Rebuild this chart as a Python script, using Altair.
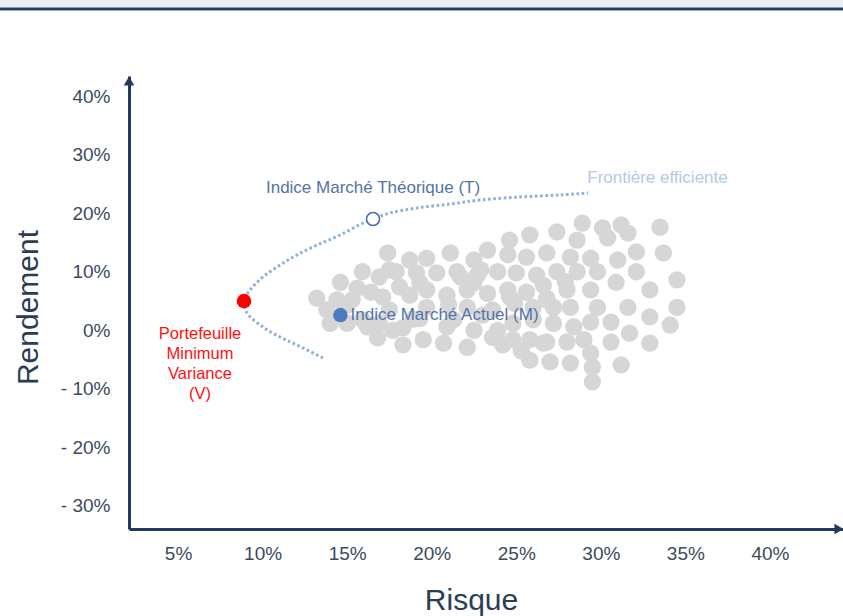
import altair as alt
import pandas as pd

# ---------------- data ----------------
x_ticks = [5, 10, 15, 20, 25, 30, 35, 40]
y_ticks = [-30, -20, -10, 0, 10, 20, 30, 40]

# gray cloud of individual assets (risk %, return %)
gx = [28.9, 30.1, 31.2, 31.6, 33.5, 30.4, 28.6, 27.4, 25.8, 24.6,
      32.1, 33.7, 31.0, 29.4, 28.2, 26.8, 25.6, 24.5, 23.3, 22.5,
      21.1, 19.7, 18.7, 17.4, 32.1, 34.5, 32.9, 30.9, 29.8, 28.6,
      27.4, 26.2, 25.0, 23.9, 22.7, 21.5, 20.3, 19.1, 17.9, 16.9,
      15.9, 14.6, 13.2, 15.6, 16.4, 18.1, 19.7, 20.9, 22.1, 23.3,
      24.5, 25.6, 26.8, 28.0, 29.4, 28.2, 29.8, 31.6, 32.9, 34.5,
      34.1, 32.9, 31.7, 30.6, 30.6, 29.4, 28.2, 29.5, 31.2, 29.5,
      27.0, 25.8, 26.8, 28.0, 28.4, 27.2, 26.0, 24.8, 24.8, 23.6,
      22.5, 22.1, 20.7, 19.5, 18.3, 18.3, 16.8, 16.9, 15.9, 15.0,
      14.0, 13.8, 15.0, 17.5, 21.3, 23.6, 26.0, 27.2, 22.1, 19.7,
      18.7, 25.8, 29.4, 29.0, 26.6, 24.2, 26.8, 24.6, 14.4, 17.1,
      15.3, 19.3, 21.7, 22.9, 20.9, 23.9, 16.2, 17.7, 17.5, 22.5,
      26.6, 19.3, 21.0, 24.9, 27.9, 23.0, 18.9, 25.3]
gy = [18.3, 17.5, 18.0, 16.6, 17.6, 15.8, 15.4, 16.8, 16.3, 15.4,
      13.4, 13.2, 12.0, 12.3, 12.5, 13.2, 12.5, 12.9, 13.7, 12.0,
      13.2, 12.3, 12.0, 13.2, 10.0, 8.6, 6.9, 8.2, 10.0, 10.0,
      10.0, 9.4, 9.8, 10.0, 9.4, 10.0, 9.8, 9.8, 10.0, 9.1,
      10.0, 8.2, 5.5, 7.2, 6.5, 7.4, 6.9, 6.0, 6.9, 6.3,
      6.9, 6.5, 5.5, 6.9, 6.9, 3.9, 3.9, 3.9, 2.3, 3.9,
      0.9, -2.2, -0.5, 1.4, -2.0, -3.9, -5.6, -6.3, -5.9, -8.8,
      -5.4, -5.1, -2.0, -2.0, 0.6, 1.2, 1.8, 1.2, -1.6, -1.2,
      0.0, -2.9, -2.2, -1.6, -2.5, 0.4, -1.3, 1.2, 1.8, 1.2,
      1.2, 3.5, 4.3, 3.5, 1.8, 3.5, 3.9, 3.9, 3.9, 3.9,
      6.0, -1.6, 1.4, -1.6, -2.2, -2.5, 5.2, 5.7, 5.2, 5.7,
      5.2, 8.1, 9.1, 10.3, 0.6, 0.0, 0.6, 0.0, 10.3, 8.1,
      7.7, 2.0, 4.4, 4.6, 8.3, 2.6, 1.9, -3.5]

# efficient frontier (ordered along the curve)
fx = [13.57, 12.03, 11.03, 10.02, 9.08, 8.9, 9.26, 10.02, 11.03, 12.03, 13.22,
      14.58, 15.94, 16.53, 17.54, 19.13, 21.08, 22.85, 25.21, 27.58, 29.24]
fy = [-4.73, -2.51, -1.15, 0.56, 2.95, 5.0, 6.88, 9.10, 11.14, 12.85, 14.56,
      16.27, 18.32, 19.0, 20.03, 20.88, 21.56, 22.24, 22.76, 23.1, 23.44]

# key portfolios
v_pt = (8.9, 5.0)     # minimum variance
t_pt = (16.53, 19.0)  # theoretical market index
m_pt = (14.6, 2.6)    # current market index

# labels (text, x, y)
lab_T = ("Indice Marché Théorique (T)", 16.53, 24.3)
lab_F = ("Frontière efficiente", 33.35, 26.0)
lab_M = ("Indice Marché Actuel (M)", 15.2, 2.6)
lab_V = (["Portefeuille", "Minimum", "Variance", "(V)"], 6.3, -0.63)

# ---------------- styling ----------------
FONT = "Liberation Sans"
AXIS_COLOR = "#1f3a5c"
LABEL_COLOR = "#3c4a5b"
TITLE_COLOR = "#2a3d56"
W, H = 714, 453
X_DOMAIN = [2.1, 44.32]
Y_DOMAIN = [-33.93, 43.42]

xs = alt.Scale(domain=X_DOMAIN, nice=False, zero=False)
ys = alt.Scale(domain=Y_DOMAIN, nice=False, zero=False)

x_axis = alt.Axis(values=x_ticks, labelExpr="datum.value + '%'", ticks=False, grid=False,
                  domainColor=AXIS_COLOR, domainWidth=3, labelFont=FONT, labelFontSize=19,
                  labelColor=LABEL_COLOR, labelPadding=15, title="Risque", titleFont=FONT,
                  titleFontSize=30, titleFontWeight="normal", titleColor=TITLE_COLOR,
                  titleX=342, titleY=71, titleAlign="center", titleBaseline="middle")
y_axis = alt.Axis(values=y_ticks,
                  labelExpr="datum.value < 0 ? '- ' + abs(datum.value) + '%' : datum.value + '%'",
                  ticks=False, grid=False, domainColor=AXIS_COLOR, domainWidth=3,
                  labelFont=FONT, labelFontSize=19, labelColor=LABEL_COLOR, labelPadding=19,
                  title="Rendement", titleFont=FONT, titleFontSize=30, titleFontWeight="normal",
                  titleColor=TITLE_COLOR, titleX=-101, titleY=231, titleAngle=270,
                  titleAlign="center", titleBaseline="middle")


def X(field):
    return alt.X(field, type="quantitative", scale=xs, axis=x_axis)


def Y(field):
    return alt.Y(field, type="quantitative", scale=ys, axis=y_axis)


cloud_df = pd.DataFrame({"risk": gx, "ret": gy})
front_df = pd.DataFrame({"risk": fx, "ret": fy, "order": list(range(len(fx)))})
one = pd.DataFrame({"a": [0]})

frontier = alt.Chart(front_df).mark_line(
    color="#8eb0db", strokeWidth=3, strokeDash=[2.6, 2.6], interpolate="catmull-rom"
).encode(x=X("risk"), y=Y("ret"), order="order:Q")

cloud = alt.Chart(cloud_df).mark_circle(size=300, color="#d6d6d6", opacity=1).encode(
    x=X("risk"), y=Y("ret"))


def pt_df(p):
    return pd.DataFrame({"risk": [p[0]], "ret": [p[1]]})


v_mark = alt.Chart(pt_df(v_pt)).mark_circle(size=210, color="#ff0000", opacity=1).encode(
    x=X("risk"), y=Y("ret"))
m_mark = alt.Chart(pt_df(m_pt)).mark_circle(size=210, color="#4a7cc2", opacity=1).encode(
    x=X("risk"), y=Y("ret"))
t_mark = alt.Chart(pt_df(t_pt)).mark_point(size=170, shape="circle", filled=True, fill="white",
                                            stroke="#4b6fa6", strokeWidth=1.6, opacity=1).encode(
    x=X("risk"), y=Y("ret"))


def text_layer(lab, color, align, size=17, line_height=None):
    df = pd.DataFrame({"t": [lab[0]], "risk": [lab[1]], "ret": [lab[2]]})
    kw = dict(font=FONT, fontSize=size, color=color, align=align, baseline="middle")
    if line_height:
        kw["lineHeight"] = line_height
    return alt.Chart(df).mark_text(**kw).encode(x=X("risk"), y=Y("ret"), text="t")


t_T = text_layer(lab_T, "#5274a8", "center")
t_F = text_layer(lab_F, "#b3c9e6", "center")
t_M = text_layer(lab_M, "#5274a8", "left")
t_V = text_layer(lab_V, "#ff1010", "center", size=16.5, line_height=20)

# decorations: header band and axis arrows
band = alt.Chart(one).mark_rect(color="#e9f0f8").encode(
    x=alt.value(-129), x2=alt.value(W), y=alt.value(-76), y2=alt.value(-68.5))
navy = alt.Chart(one).mark_rect(color="#23405f").encode(
    x=alt.value(-129), x2=alt.value(W), y=alt.value(-68.5), y2=alt.value(-66))
thin = alt.Chart(one).mark_rect(color="#9aabbf").encode(
    x=alt.value(-129), x2=alt.value(W), y=alt.value(-66), y2=alt.value(-65))
arrow_up = alt.Chart(one).mark_point(shape="triangle-up", filled=True, size=110,
                                     color=AXIS_COLOR, opacity=1).encode(
    x=alt.value(0), y=alt.value(5))
arrow_right = alt.Chart(one).mark_point(shape="triangle-right", filled=True, size=110,
                                        color=AXIS_COLOR, opacity=1).encode(
    x=alt.value(W - 4), y=alt.value(H))

chart = alt.layer(
    frontier, cloud, m_mark, t_mark, v_mark, t_T, t_F, t_M, t_V,
    band, navy, thin, arrow_up, arrow_right
).properties(
    width=W, height=H,
    autosize=alt.AutoSizeParams(type="none"),
    padding={"left": 129, "top": 76, "right": 0, "bottom": 87},
    background="white",
).configure_view(stroke=None)

chart.save("out.html", embed_options={"renderer": "svg", "actions": False})
